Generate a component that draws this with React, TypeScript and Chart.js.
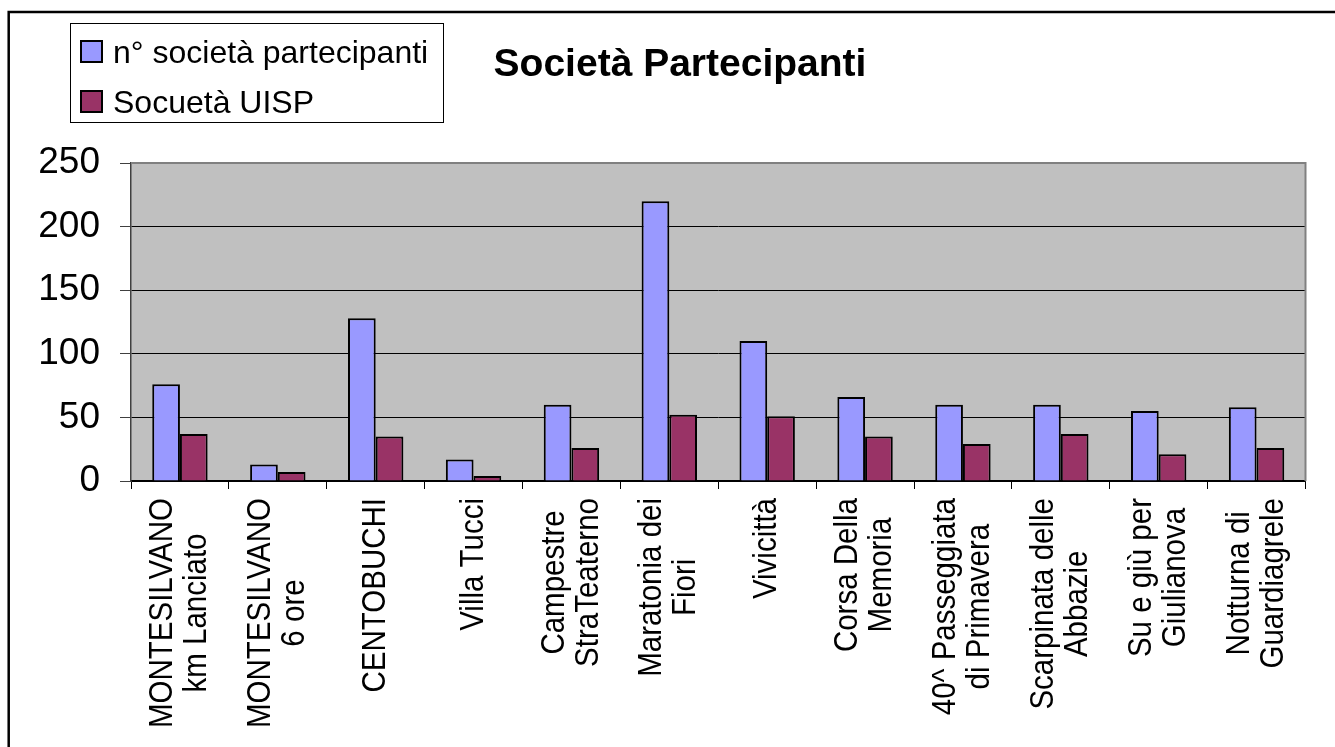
import React, { useEffect, useRef } from "react";
import { Chart, registerables } from "chart.js";

Chart.register(...registerables);

// ---- data ----
const categories: (string | string[])[] = [
  ["MONTESILVANO", "km Lanciato"],
  ["MONTESILVANO", "6 ore"],
  "CENTOBUCHI",
  "Villa Tucci",
  ["Campestre", "StraTeaterno"],
  ["Maratonia dei", "Fiori"],
  "Vivicittà",
  ["Corsa Della", "Memoria"],
  ["40^ Passeggiata", "di Primavera"],
  ["Scarpinata delle", "Abbazie"],
  ["Su e giù per", "Giulianova"],
  ["Notturna di", "Guardiagrele"],
];
const societaPartecipanti = [76, 13, 128, 17, 60, 220, 110, 66, 60, 60, 55, 58];
const societaUISP = [37, 7, 35, 4, 26, 52, 51, 35, 29, 37, 21, 26];
const seriesNames = ["n° società partecipanti", "Socuetà UISP"];
const seriesColors = ["#9999FF", "#993366"];
const yMin = 0;
const yMax = 250;
const yStep = 50;
const chartTitle = "Società Partecipanti";

const FONT = '"Liberation Sans", Arial, Helvetica, sans-serif';

const decorPlugin = {
  id: "decor",
  beforeDraw(chart: any) {
    const { ctx, chartArea: a } = chart;
    ctx.save();
    ctx.fillStyle = "#ffffff";
    ctx.fillRect(0, 0, chart.width, chart.height);
    // outer frame (top & left visible)
    ctx.strokeStyle = "#000";
    ctx.lineWidth = 2.5;
    ctx.beginPath();
    ctx.moveTo(8.7, chart.height + 5);
    ctx.lineTo(8.7, 12);
    ctx.lineTo(chart.width + 5, 12);
    ctx.stroke();
    // plot background
    ctx.fillStyle = "#C0C0C0";
    ctx.fillRect(a.left, a.top, a.right - a.left, a.bottom - a.top);
    ctx.restore();
  },
  afterDraw(chart: any) {
    const { ctx, chartArea: a } = chart;
    ctx.save();
    // plot border top & right (gray)
    ctx.strokeStyle = "#808080";
    ctx.lineWidth = 2;
    ctx.beginPath();
    ctx.moveTo(a.left, a.top);
    ctx.lineTo(a.right, a.top);
    ctx.lineTo(a.right, a.bottom);
    ctx.stroke();

    // title
    ctx.fillStyle = "#000";
    ctx.font = `bold 39px ${FONT}`;
    ctx.textAlign = "center";
    ctx.textBaseline = "alphabetic";
    ctx.fillText(chartTitle, 680, 76);

    // legend box
    ctx.strokeStyle = "#000";
    ctx.lineWidth = 1;
    ctx.strokeRect(70.5, 23.5, 373, 99);
    ctx.font = `32px ${FONT}`;
    ctx.textAlign = "left";
    const baselines = [63, 113];
    seriesNames.forEach((name, i) => {
      const b = baselines[i];
      ctx.fillStyle = seriesColors[i];
      ctx.fillRect(81, b - 22, 21, 21);
      ctx.lineWidth = 2;
      ctx.strokeStyle = "#000";
      ctx.strokeRect(81, b - 22, 21, 21);
      ctx.fillStyle = "#000";
      ctx.fillText(name, 113, b);
    });

    // category labels (rotated, centered lines)
    const xs = chart.scales.x;
    ctx.font = `29.5px ${FONT}`;
    ctx.fillStyle = "#000";
    const LH = 34;
    categories.forEach((c, i) => {
      const lines = Array.isArray(c) ? c : [c];
      const x = xs.getPixelForValue(i);
      const W = Math.max(...lines.map((l) => ctx.measureText(l).width));
      ctx.save();
      ctx.translate(x, a.bottom + 17);
      ctx.rotate(-Math.PI / 2);
      ctx.scale(1, 1.12);
      ctx.textAlign = "center";
      ctx.textBaseline = "middle";
      lines.forEach((l, j) => {
        const off = (j - (lines.length - 1) / 2) * (LH / 1.12);
        ctx.fillText(l, -W / 2, off);
      });
      ctx.restore();
    });
    ctx.restore();
  },
};

export default function App() {
  const ref = useRef<HTMLCanvasElement | null>(null);
  useEffect(() => {
    if (!ref.current) return;
    const chart = new Chart(ref.current, {
      type: "bar",
      data: {
        labels: categories.map((c) => (Array.isArray(c) ? c.join(" ") : c)),
        datasets: [
          {
            label: seriesNames[0],
            data: societaPartecipanti,
            backgroundColor: seriesColors[0],
            borderColor: "#000",
            borderWidth: 2,
            categoryPercentage: 0.566,
            barPercentage: 1,
          },
          {
            label: seriesNames[1],
            data: societaUISP,
            backgroundColor: seriesColors[1],
            borderColor: "#000",
            borderWidth: 2,
            categoryPercentage: 0.566,
            barPercentage: 1,
          },
        ],
      },
      options: {
        animation: false,
        responsive: true,
        maintainAspectRatio: false,
        layout: { padding: { top: 163, left: 0, right: 29.5, bottom: 0 } },
        plugins: {
          legend: { display: false },
          title: { display: false },
          tooltip: { enabled: false },
        },
        scales: {
          x: {
            offset: true,
            grid: {
              display: true,
              drawOnChartArea: false,
              drawTicks: true,
              tickLength: 8,
              tickColor: "#000",
              lineWidth: 1,
            },
            border: { display: true, color: "#000", width: 1.5 },
            ticks: { display: false },
            afterFit: (s: any) => {
              s.height = 747 - 481;
            },
          },
          y: {
            min: yMin,
            max: yMax,
            ticks: {
              stepSize: yStep,
              color: "#000",
              padding: 20,
              font: { family: FONT, size: 37 },
            },
            grid: {
              color: (ctx: any) => (ctx.tick && ctx.tick.value === yMax ? "rgba(0,0,0,0)" : "#000"),
              lineWidth: 1,
              tickLength: 11,
              tickColor: "#404040",
            },
            border: { display: true, color: "#404040", width: 1.5 },
            afterFit: (s: any) => {
              s.width = 131;
            },
          },
        },
      },
      plugins: [decorPlugin],
    });
    return () => chart.destroy();
  }, []);
  return (
    <div
      style={{
        position: "fixed",
        left: 0,
        top: 0,
        width: 1335,
        height: 747,
        background: "#fff",
      }}
    >
      <canvas ref={ref} />
    </div>
  );
}
